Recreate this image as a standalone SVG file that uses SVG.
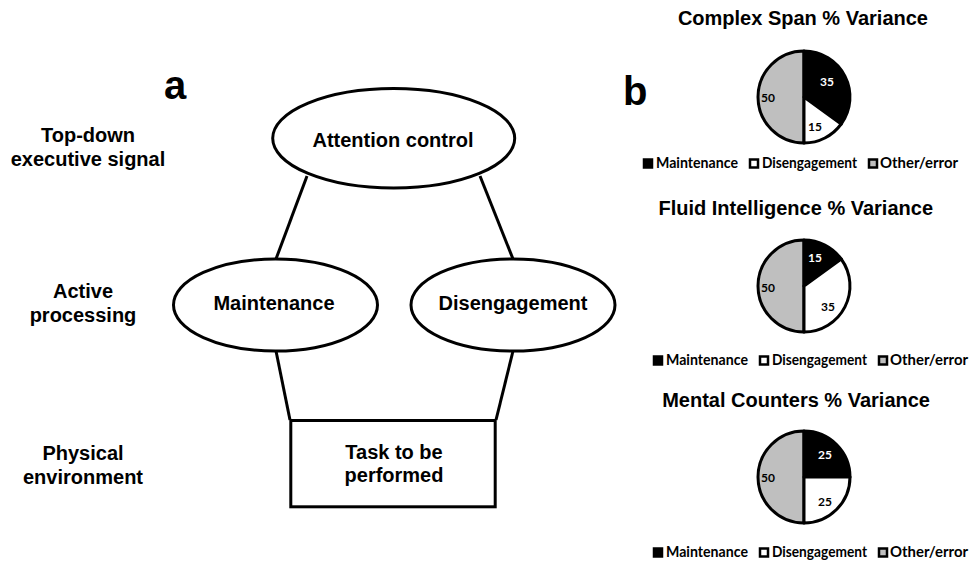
<svg xmlns="http://www.w3.org/2000/svg" width="971" height="564" viewBox="0 0 971 564">
  <style>
    .lbl { font-family: "Liberation Sans", Arial, sans-serif; font-weight: bold; font-size: 20px; fill: #000; text-anchor: middle; }
    .panel { font-family: "Liberation Sans", Arial, sans-serif; font-weight: bold; font-size: 40px; fill: #000; }
    .title { font-family: "Liberation Sans", Arial, sans-serif; font-weight: bold; font-size: 20px; fill: #000; text-anchor: end; }
    .leg { font-family: Lato, "Open Sans", sans-serif; font-weight: bold; font-size: 15px; fill: #000; }
    .num { font-family: Lato, "Open Sans", sans-serif; font-weight: bold; font-size: 12px; text-anchor: middle; }
    .node { fill: #fff; stroke: #000; stroke-width: 3; }
    .edge { stroke: #000; stroke-width: 3; fill: none; }
    .slice { stroke: #000; stroke-width: 3; stroke-linejoin: round; }
    .blk { fill: #000; }
    .wht { fill: #fff; }
    .gry { fill: #bfbfbf; }
    .box { stroke: #000; stroke-width: 2.5; }
  </style>

  <rect width="971" height="564" fill="#fff"/>

  <!-- panel a -->
  <text class="panel" x="164" y="99">a</text>

  <g id="level-labels">
    <text class="lbl" x="88" y="142">Top-down</text>
    <text class="lbl" x="88" y="166">executive signal</text>
    <text class="lbl" x="83" y="298">Active</text>
    <text class="lbl" x="83" y="322">processing</text>
    <text class="lbl" x="83" y="460">Physical</text>
    <text class="lbl" x="83" y="484">environment</text>
  </g>

  <g id="connectors">
    <line class="edge" x1="307" y1="176" x2="276" y2="259"/>
    <line class="edge" x1="480" y1="176" x2="513" y2="259"/>
    <line class="edge" x1="276" y1="351" x2="290" y2="420"/>
    <line class="edge" x1="513" y1="351" x2="496" y2="420"/>
  </g>

  <g id="attention-control">
    <ellipse class="node" cx="393.7" cy="138.3" rx="121" ry="49.7" stroke-width="4.5"/>
    <text class="lbl" x="393" y="147">Attention control</text>
  </g>

  <g id="maintenance">
    <ellipse class="node" cx="275.5" cy="305" rx="102" ry="46"/>
    <text class="lbl" x="274" y="310">Maintenance</text>
  </g>

  <g id="disengagement">
    <ellipse class="node" cx="513" cy="305" rx="102" ry="46"/>
    <text class="lbl" x="513" y="310">Disengagement</text>
  </g>

  <g id="task">
    <rect class="node" x="290.8" y="420.5" width="204.4" height="86.3"/>
    <text class="lbl" x="394" y="459">Task to be</text>
    <text class="lbl" x="394" y="482">performed</text>
  </g>

  <!-- panel b -->
  <text class="panel" x="623" y="105">b</text>

  <g id="pie-complex-span">
    <text class="title" x="928" y="25">Complex Span % Variance</text>
    <path class="slice gry" d="M804,97 L804,51 A46,46 0 0 0 804,143 Z"/>
    <path class="slice blk" d="M804,97 L804,51 A46,46 0 0 1 841.2,124 Z"/>
    <path class="slice wht" d="M804,97 L841.2,124 A46,46 0 0 1 804,143 Z"/>
    <text class="num" x="827" y="86" fill="#fff">35</text>
    <text class="num" x="815" y="131" fill="#000">15</text>
    <text class="num" x="768" y="102" fill="#000">50</text>
    <g>
      <rect class="box blk" x="644" y="159.5" width="8" height="8"/>
      <text class="leg" x="656" y="168" textLength="82" lengthAdjust="spacingAndGlyphs">Maintenance</text>
      <rect class="box wht" x="750" y="159.5" width="8" height="8"/>
      <text class="leg" x="762" y="168" textLength="95" lengthAdjust="spacingAndGlyphs">Disengagement</text>
      <rect class="box gry" x="869" y="159.5" width="8" height="8"/>
      <text class="leg" x="880" y="168" textLength="78" lengthAdjust="spacingAndGlyphs">Other/error</text>
    </g>
  </g>

  <g id="pie-fluid-intelligence">
    <text class="title" x="933" y="215">Fluid Intelligence % Variance</text>
    <path class="slice gry" d="M804,286 L804,240 A46,46 0 0 0 804,332 Z"/>
    <path class="slice blk" d="M804,286 L804,240 A46,46 0 0 1 841.2,259 Z"/>
    <path class="slice wht" d="M804,286 L841.2,259 A46,46 0 0 1 804,332 Z"/>
    <text class="num" x="815" y="262" fill="#fff">15</text>
    <text class="num" x="828" y="311" fill="#000">35</text>
    <text class="num" x="768" y="292" fill="#000">50</text>
    <g>
      <rect class="box blk" x="654" y="356.5" width="8" height="8"/>
      <text class="leg" x="666" y="365" textLength="82" lengthAdjust="spacingAndGlyphs">Maintenance</text>
      <rect class="box wht" x="760" y="356.5" width="8" height="8"/>
      <text class="leg" x="772" y="365" textLength="95" lengthAdjust="spacingAndGlyphs">Disengagement</text>
      <rect class="box gry" x="879" y="356.5" width="8" height="8"/>
      <text class="leg" x="890" y="365" textLength="78" lengthAdjust="spacingAndGlyphs">Other/error</text>
    </g>
  </g>

  <g id="pie-mental-counters">
    <text class="title" x="930" y="407">Mental Counters % Variance</text>
    <path class="slice gry" d="M804,477 L804,431 A46,46 0 0 0 804,523 Z"/>
    <path class="slice blk" d="M804,477 L804,431 A46,46 0 0 1 850,477 Z"/>
    <path class="slice wht" d="M804,477 L850,477 A46,46 0 0 1 804,523 Z"/>
    <text class="num" x="825" y="459" fill="#fff">25</text>
    <text class="num" x="825" y="506" fill="#000">25</text>
    <text class="num" x="768" y="482" fill="#000">50</text>
    <g>
      <rect class="box blk" x="654" y="548.5" width="8" height="8"/>
      <text class="leg" x="666" y="557" textLength="82" lengthAdjust="spacingAndGlyphs">Maintenance</text>
      <rect class="box wht" x="760" y="548.5" width="8" height="8"/>
      <text class="leg" x="772" y="557" textLength="95" lengthAdjust="spacingAndGlyphs">Disengagement</text>
      <rect class="box gry" x="879" y="548.5" width="8" height="8"/>
      <text class="leg" x="890" y="557" textLength="78" lengthAdjust="spacingAndGlyphs">Other/error</text>
    </g>
  </g>
</svg>
